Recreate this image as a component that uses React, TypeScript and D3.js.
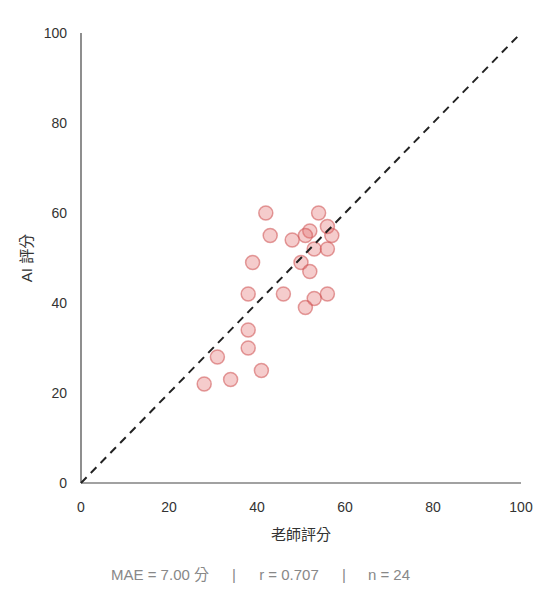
import { useEffect, useRef } from "react"
import * as d3 from "d3"

// teacher score vs AI score
const teacherScores = [42, 54, 56, 52, 51, 43, 48, 57, 53, 56, 39, 50, 52, 38, 46, 56, 53, 51, 38, 38, 31, 41, 34, 28]
const aiScores = [60, 60, 57, 56, 55, 55, 54, 55, 52, 52, 49, 49, 47, 42, 42, 42, 41, 39, 34, 30, 28, 25, 23, 22]
const tickValues = [0, 20, 40, 60, 80, 100]
const footerParts = ["MAE = 7.00 分", "|", "r = 0.707", "|", "n = 24"]

const FONT = "Helvetica, Arial, 'Liberation Sans', 'Noto Sans CJK TC', sans-serif"

const App = () => {
  const svgRef = useRef<SVGSVGElement>(null)

  useEffect(() => {
    if (!svgRef.current) return
    const svg = d3.select(svgRef.current)
    svg.selectAll("*").remove()

    const x = d3.scaleLinear().domain([0, 100]).range([81, 521])
    const y = d3.scaleLinear().domain([0, 100]).range([483, 33])

    // axes (no tick marks, just labels)
    svg.append("line")
      .attr("x1", x(0)).attr("x2", x(100))
      .attr("y1", y(0)).attr("y2", y(0))
      .attr("stroke", "#444").attr("stroke-width", 1.2)
    svg.append("line")
      .attr("x1", x(0)).attr("x2", x(0))
      .attr("y1", y(0)).attr("y2", y(100))
      .attr("stroke", "#444").attr("stroke-width", 1.2)

    svg.append("g")
      .selectAll("text")
      .data(tickValues)
      .join("text")
      .attr("x", (d) => x(d))
      .attr("y", y(0) + 29)
      .attr("text-anchor", "middle")
      .attr("font-size", 14)
      .attr("fill", "#333")
      .text((d) => d)

    svg.append("g")
      .selectAll("text")
      .data(tickValues)
      .join("text")
      .attr("x", x(0) - 14)
      .attr("y", (d) => y(d) + 5)
      .attr("text-anchor", "end")
      .attr("font-size", 14)
      .attr("fill", "#333")
      .text((d) => d)

    // points
    const points = teacherScores.map((t, i) => ({ t, a: aiScores[i] }))
    svg.append("g")
      .selectAll("circle")
      .data(points)
      .join("circle")
      .attr("cx", (d) => x(d.t))
      .attr("cy", (d) => y(d.a))
      .attr("r", 7)
      .attr("fill", "rgba(225, 110, 110, 0.35)")
      .attr("stroke", "rgba(205, 80, 80, 0.55)")
      .attr("stroke-width", 1.5)

    // y = x reference
    svg.append("line")
      .attr("x1", x(0)).attr("y1", y(0))
      .attr("x2", x(100)).attr("y2", y(100))
      .attr("stroke", "#222")
      .attr("stroke-width", 2)
      .attr("stroke-dasharray", "8,6")

    // axis titles
    svg.append("text")
      .attr("x", (x(0) + x(100)) / 2)
      .attr("y", 540)
      .attr("text-anchor", "middle")
      .attr("font-size", 15)
      .attr("fill", "#333")
      .text("老師評分")

    svg.append("text")
      .attr("transform", `translate(32, ${(y(0) + y(100)) / 2}) rotate(-90)`)
      .attr("text-anchor", "middle")
      .attr("font-size", 15)
      .attr("fill", "#333")
      .text("AI 評分")

    // footer stats
    const footerX = [160, 234, 289, 344, 389]
    svg.append("g")
      .selectAll("text")
      .data(footerParts)
      .join("text")
      .attr("x", (_, i) => footerX[i])
      .attr("y", 580)
      .attr("text-anchor", "middle")
      .attr("font-size", 15)
      .attr("fill", "#888")
      .text((d) => d)
  }, [])

  return (
    <svg
      ref={svgRef}
      width={548}
      height={600}
      style={{ position: "absolute", left: 0, top: 0, fontFamily: FONT, background: "#fff" }}
    />
  )
}

export default App
